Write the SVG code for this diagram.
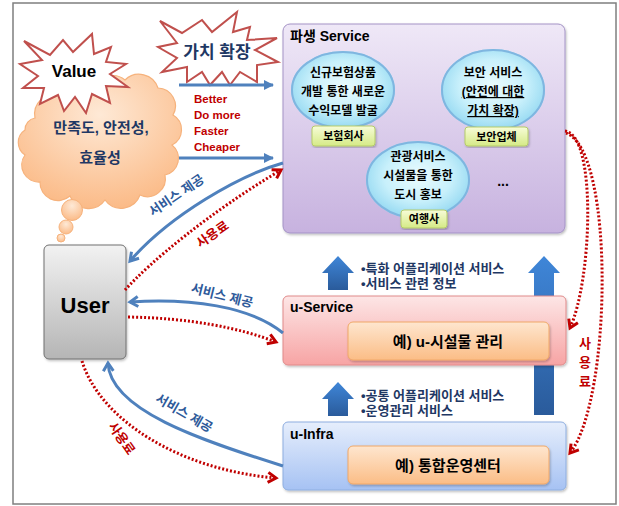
<svg xmlns="http://www.w3.org/2000/svg" width="619" height="506" viewBox="0 0 619 506">
<defs>
<style>
.ko{font-family:"Liberation Sans","Noto Sans CJK KR",sans-serif;font-weight:bold}
.navy{fill:#1f3864}
.blue{fill:#2e5a9a}
.red{fill:#c00000}
.blk{fill:#000}
.bl{fill:none;stroke:#4f81bd;stroke-width:3}
.rd{fill:none;stroke:#c00000;stroke-width:3;stroke-dasharray:2 2}
.star{fill:#fff;stroke:#c0504d;stroke-width:2;stroke-linejoin:miter}
.ell{fill:url(#gEll);stroke:#7fb6e0;stroke-width:2}
.lab{fill:url(#gLab);stroke:#b5cc6a;stroke-width:1}
.inner{fill:url(#gOr);stroke:#f0a868;stroke-width:1}
</style>
<linearGradient id="gPur" x1="0" y1="0" x2="0" y2="1"><stop offset="0" stop-color="#efe8f7"/><stop offset="1" stop-color="#c7b2df"/></linearGradient>
<linearGradient id="gRed" x1="0" y1="0" x2="0" y2="1"><stop offset="0" stop-color="#fde6e6"/><stop offset="1" stop-color="#f7a4a4"/></linearGradient>
<linearGradient id="gBlu" x1="0" y1="0" x2="0" y2="1"><stop offset="0" stop-color="#e6eefc"/><stop offset="1" stop-color="#a6c2f3"/></linearGradient>
<linearGradient id="gOr" x1="0" y1="0" x2="0" y2="1"><stop offset="0" stop-color="#fee6cf"/><stop offset="1" stop-color="#fbbd86"/></linearGradient>
<linearGradient id="gLab" x1="0" y1="0" x2="0" y2="1"><stop offset="0" stop-color="#f7fcd8"/><stop offset="1" stop-color="#d5ea86"/></linearGradient>
<linearGradient id="gUser" x1="0" y1="0" x2="0" y2="1"><stop offset="0" stop-color="#f2f2f2"/><stop offset="1" stop-color="#b5b5b5"/></linearGradient>
<linearGradient id="gArr" x1="0" y1="0" x2="0" y2="1"><stop offset="0" stop-color="#3f86d8"/><stop offset="1" stop-color="#2a5b9b"/></linearGradient>
<radialGradient id="gEll" cx="0.5" cy="0.45" r="0.55"><stop offset="0" stop-color="#eafbfe"/><stop offset="0.6" stop-color="#c8f0fb"/><stop offset="1" stop-color="#97daf2"/></radialGradient>
<radialGradient id="gCloud" cx="0.5" cy="0.3" r="0.7"><stop offset="0" stop-color="#fee9d6"/><stop offset="1" stop-color="#fbbb88"/></radialGradient>
<filter id="sh" x="-10%" y="-10%" width="120%" height="120%"><feDropShadow dx="1" dy="1.5" stdDeviation="1.2" flood-color="#000" flood-opacity="0.25"/></filter>
<filter id="glow" x="-20%" y="-20%" width="140%" height="140%"><feGaussianBlur in="SourceAlpha" stdDeviation="2"/><feFlood flood-color="#9fd0f0"/><feComposite operator="in" in2="SourceGraphic" result="x"/><feMerge><feMergeNode/><feMergeNode in="SourceGraphic"/></feMerge></filter>
<marker id="mTri" markerUnits="userSpaceOnUse" viewBox="0 0 10 10" refX="9" refY="5" markerWidth="10" markerHeight="10" orient="auto"><path d="M0,0 L10,5 L0,10 z" fill="#4f81bd"/></marker>
<marker id="mBlue" markerUnits="userSpaceOnUse" viewBox="-3 -3 16 16" refX="9" refY="5" markerWidth="16" markerHeight="16" orient="auto"><path d="M1,0 L9,5 L1,10" fill="none" stroke="#4f81bd" stroke-width="3"/></marker>
<marker id="mRed" markerUnits="userSpaceOnUse" viewBox="-3 -3 16 16" refX="9" refY="5" markerWidth="16" markerHeight="16" orient="auto"><path d="M1,0 L9,5 L1,10" fill="none" stroke="#c00000" stroke-width="3"/></marker>
</defs>

<rect x="13" y="3" width="603" height="501" fill="#fff" stroke="#7f7f7f" stroke-width="1.5"/>

<g id="upArrows">
<polygon points="338,256 354,273 348,273 348,290 328,290 328,273 322,273" fill="url(#gArr)"/>
<polygon points="338,382 354,399 348,399 348,416 328,416 328,399 322,399" fill="url(#gArr)"/>
<polygon points="544,256 560,273 554,273 554,415 534,415 534,273 528,273" fill="url(#gArr)"/>
</g>

<g id="value-cloud">
<path d="M35,118 A20,20 0 0 1 60,95 A20,20 0 0 1 95,88 A19,19 0 0 1 125,80 A20,20 0 0 1 158,88 A18,18 0 0 1 173,115 A17,17 0 0 1 172,145 A17,17 0 0 1 165,175 A18,18 0 0 1 140,195 A20,20 0 0 1 105,200 A20,20 0 0 1 70,196 A18,18 0 0 1 40,182 A17,17 0 0 1 25,155 A15,15 0 0 1 25,130 A12,12 0 0 1 35,118 z" fill="url(#gCloud)" stroke="#f6b27c" stroke-width="1.2"/>
<circle cx="72" cy="210" r="10.5" fill="url(#gCloud)" stroke="#f6b27c"/>
<circle cx="66" cy="227" r="7" fill="url(#gCloud)" stroke="#f6b27c"/>
<circle cx="61" cy="238" r="4" fill="url(#gCloud)" stroke="#f6b27c"/>
<text class="ko navy" x="101" y="133" font-size="15" text-anchor="middle">만족도, 안전성,</text>
<text class="ko navy" x="100" y="163" font-size="15" text-anchor="middle">효율성</text>
</g>

<g id="value-star">
<polygon class="star" points="24,41 50,55 63,40 73,52 92,34 94,54 111,47 106,62 126,64 110,74 128,87 106,86 110,103 92,94 86,113 75,97 64,111 58,95 40,104 44,88 23,88 38,76 20,64 42,60"/>
<text class="ko blk" x="74" y="77" font-size="17" text-anchor="middle">Value</text>
</g>

<g id="value-ext-star">
<polygon class="star" points="160,21 182,33 202,20 212,32 237,12 233,32 250,27 247,40 277,38 255,50 278,62 257,65 257,82 240,72 230,85 222,72 210,85 202,72 187,82 187,67 162,72 177,58 158,47 177,43"/>
<text class="ko navy" x="217" y="58" font-size="17" text-anchor="middle" stroke="#fff" stroke-width="3" paint-order="stroke">가치 확장</text>
</g>

<g id="derived-service">
<rect x="283" y="24" width="282" height="209" rx="7" fill="url(#gPur)" stroke="#a493c6" stroke-width="1" filter="url(#sh)"/>
<text class="ko blk" x="290" y="41" font-size="14">파생 Service</text>
<g id="insurance">
<ellipse class="ell" cx="343" cy="90" rx="51" ry="38" filter="url(#glow)"/>
<text class="ko blk" font-size="12" text-anchor="middle"><tspan x="343" y="77">신규보험상품</tspan><tspan x="343" y="96">개발 통한 새로운</tspan><tspan x="343" y="115">수익모델 발굴</tspan></text>
<rect class="lab" x="312" y="126" width="63" height="20" rx="3" filter="url(#sh)"/>
<text class="ko blk" x="343.5" y="140" font-size="11" text-anchor="middle">보험회사</text>
</g>
<g id="security">
<ellipse class="ell" cx="493" cy="90" rx="51" ry="40" filter="url(#glow)"/>
<text class="ko blk" font-size="12" text-anchor="middle"><tspan x="493" y="77">보안 서비스</tspan><tspan x="493" y="96" text-decoration="underline">(안전에 대한</tspan><tspan x="493" y="115" text-decoration="underline">가치 확장)</tspan></text>
<rect class="lab" x="465" y="127" width="63" height="19" rx="3" filter="url(#sh)"/>
<text class="ko blk" x="496.5" y="141" font-size="11" text-anchor="middle">보안업체</text>
</g>
<g id="tourism">
<ellipse class="ell" cx="418" cy="180" rx="51" ry="38" filter="url(#glow)"/>
<text class="ko blk" font-size="12" text-anchor="middle"><tspan x="418" y="161">관광서비스</tspan><tspan x="418" y="180">시설물을 통한</tspan><tspan x="418" y="199">도시 홍보</tspan></text>
<rect class="lab" x="401" y="210" width="46" height="18" rx="3" filter="url(#sh)"/>
<text class="ko blk" x="424" y="223" font-size="11" text-anchor="middle">여행사</text>
</g>
<text class="ko blk" x="503" y="186" font-size="14" text-anchor="middle">...</text>
</g>

<g id="u-service">
<rect x="283" y="296" width="283" height="69" rx="5" fill="url(#gRed)" stroke="#e08a8a" stroke-width="1" filter="url(#sh)"/>
<text class="ko blk" x="290" y="312" font-size="14">u-Service</text>
<rect class="inner" x="348" y="322" width="201" height="38" rx="5" filter="url(#sh)"/>
<text class="ko blk" x="448" y="347" font-size="15" text-anchor="middle">예) u-시설물 관리</text>
</g>

<g id="u-infra">
<rect x="283" y="422" width="283" height="68" rx="5" fill="url(#gBlu)" stroke="#8eaee0" stroke-width="1" filter="url(#sh)"/>
<text class="ko blk" x="290" y="439" font-size="14">u-Infra</text>
<rect class="inner" x="348" y="446" width="201" height="38" rx="5" filter="url(#sh)"/>
<text class="ko blk" x="448" y="471" font-size="15" text-anchor="middle">예) 통합운영센터</text>
</g>

<g id="user">
<rect x="44" y="245" width="82" height="114" rx="5" fill="url(#gUser)" stroke="#707070" stroke-width="1" filter="url(#sh)"/>
<text class="ko blk" x="85" y="313" font-size="22" text-anchor="middle">User</text>
</g>

<g id="connectors">
<line class="bl" x1="179" y1="85" x2="273" y2="85" marker-end="url(#mTri)"/>
<line class="bl" x1="179" y1="158" x2="273" y2="158" marker-end="url(#mTri)"/>
<path class="bl" d="M283,163 C240,175 170,215 130,261" marker-end="url(#mBlue)"/>
<path class="rd" d="M125,290 C150,262 210,212 281,170" marker-end="url(#mRed)"/>
<path class="bl" d="M283,333 C250,306 190,298 130,302" marker-end="url(#mBlue)"/>
<path class="rd" d="M128,317 C190,318 240,328 276,342" marker-end="url(#mRed)"/>
<path class="bl" d="M283,466 C200,440 110,410 108,363" marker-end="url(#mBlue)"/>
<path class="rd" d="M82,361 C100,420 180,470 276,478" marker-end="url(#mRed)"/>
<path class="rd" d="M565,131 C597,135 592,280 570,328" marker-end="url(#mRed)"/>
<path class="rd" d="M566,133 C615,150 612,400 570,453" marker-end="url(#mRed)"/>
</g>

<g id="labels">
<text class="ko red" font-size="11.5"><tspan x="194" y="103">Better</tspan><tspan x="194" y="119">Do more</tspan><tspan x="194" y="135">Faster</tspan><tspan x="194" y="151">Cheaper</tspan></text>
<text class="ko blue" font-size="13" text-anchor="middle" transform="translate(179,199) rotate(-34)">서비스 제공</text>
<text class="ko red" font-size="13" text-anchor="middle" transform="translate(215,238) rotate(-35)">사용료</text>
<text class="ko blue" font-size="13" text-anchor="middle" transform="translate(221,300) rotate(14)">서비스 제공</text>
<text class="ko blue" font-size="13" text-anchor="middle" transform="translate(182,417) rotate(30)">서비스 제공</text>
<text class="ko red" font-size="13" text-anchor="middle" transform="translate(118,441) rotate(55)">사용료</text>
<text class="ko red" font-size="13" text-anchor="middle"><tspan x="585" y="348">사</tspan><tspan x="585" y="367">용</tspan><tspan x="585" y="386">료</tspan></text>
<text class="ko navy" font-size="13"><tspan x="361" y="273">•특화 어플리케이션 서비스</tspan><tspan x="361" y="288">•서비스 관련 정보</tspan><tspan x="361" y="400">•공통 어플리케이션 서비스</tspan><tspan x="361" y="415">•운영관리 서비스</tspan></text>
</g>
</svg>
